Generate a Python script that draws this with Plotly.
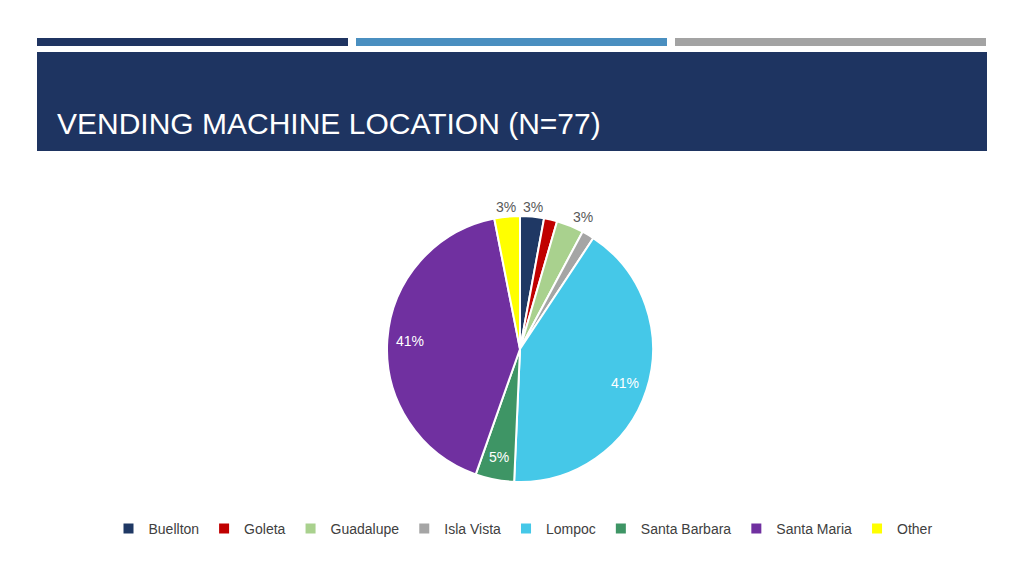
import math
import plotly.graph_objects as go

locations = ['Buellton', 'Goleta', 'Guadalupe', 'Isla Vista', 'Lompoc',
             'Santa Barbara', 'Santa Maria', 'Other']
shares = [2.9, 1.6, 3.3, 1.5, 41.4, 4.7, 41.5, 3.1]
pct_labels = ['3%', '', '3%', '', '41%', '5%', '41%', '3%']
colors = ['#1f3864', '#c00000', '#a9d18e', '#a5a5a5', '#45c8e8',
          '#3e9565', '#7030a0', '#ffff00']
inside = [False, False, False, False, True, True, True, False]

# page is offset 8px by the browser body margin, so layout coords are shifted
W, H, OFF = 1024, 576, 8


def px(x):
    return (x - OFF) / W


def py(y):
    return 1 - (y - OFF) / H


cx, cy, r = 520, 349, 133

fig = go.Figure()
fig.add_trace(go.Pie(
    labels=locations, values=shares,
    textinfo='none',
    sort=False, direction='clockwise', rotation=0,
    marker=dict(colors=colors, line=dict(color='white', width=2)),
    domain=dict(x=[px(cx - r), px(cx + r)], y=[py(cy + r), py(cy - r)]),
    hoverinfo='label+percent',
))

# data labels placed at each slice's mid angle (inside end / outside end)
annotations = []
total = sum(shares)
cum = 0
for lab, v, ins in zip(pct_labels, shares, inside):
    mid = (cum + v / 2) / total * 2 * math.pi
    cum += v
    if not lab:
        continue
    rad = 110 if ins else 143
    x = cx + rad * math.sin(mid)
    y = cy - rad * math.cos(mid)
    xanchor = 'center'
    if not ins and math.sin(mid) > 0.2:
        xanchor = 'left'
        x -= 3
    annotations.append(dict(
        text=lab, xref='paper', yref='paper', x=px(x), y=py(y),
        xanchor=xanchor, yanchor='middle', showarrow=False,
        font=dict(size=14, color='white' if ins else '#595959',
                  family='Liberation Sans'),
    ))

annotations.append(dict(
    text='VENDING MACHINE LOCATION (N=77)', xref='paper', yref='paper',
    x=px(55), y=py(123), xanchor='left', yanchor='middle',
    showarrow=False, font=dict(size=30, color='white', family='Liberation Sans'),
))

# header decoration
shapes = [
    dict(type='rect', xref='paper', yref='paper', x0=px(37), x1=px(348),
         y0=py(46), y1=py(38), fillcolor='#1f3461', line_width=0),
    dict(type='rect', xref='paper', yref='paper', x0=px(356), x1=px(667),
         y0=py(46), y1=py(38), fillcolor='#4a8fc0', line_width=0),
    dict(type='rect', xref='paper', yref='paper', x0=px(675), x1=px(986),
         y0=py(46), y1=py(38), fillcolor='#a3a3a3', line_width=0),
    dict(type='rect', xref='paper', yref='paper', x0=px(37), x1=px(987),
         y0=py(151), y1=py(52), fillcolor='#1e3461', line_width=0),
]

fig.update_layout(
    width=W, height=H,
    margin=dict(l=0, r=0, t=0, b=0),
    paper_bgcolor='white', plot_bgcolor='white',
    shapes=shapes,
    annotations=annotations,
    legend=dict(
        orientation='h', x=px(523), xanchor='center', y=py(529), yanchor='middle',
        font=dict(size=14, color='#404040', family='Liberation Sans'),
        itemwidth=30, traceorder='normal',
    ),
    font=dict(family='Liberation Sans'),
)

fig.write_html('out.html')
